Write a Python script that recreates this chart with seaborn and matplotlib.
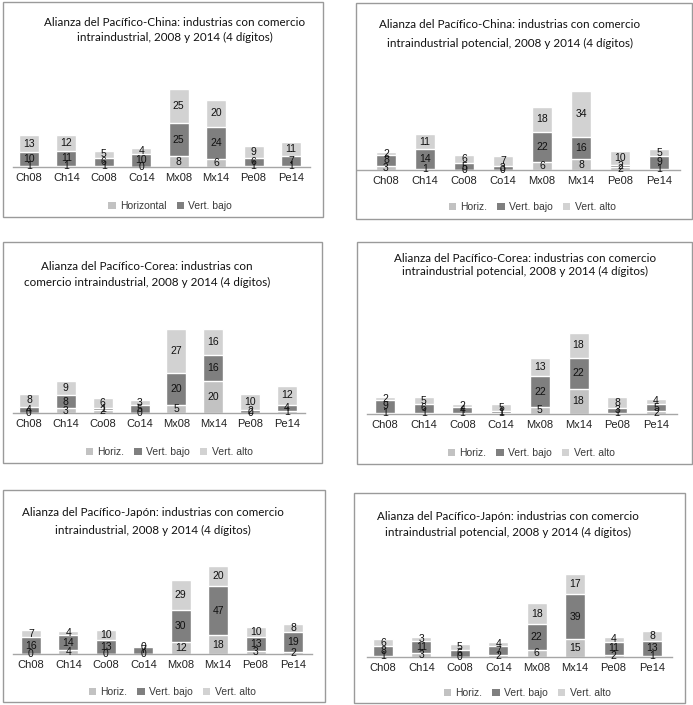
import numpy as np
import matplotlib
matplotlib.use("Agg")
import matplotlib.pyplot as plt
from matplotlib.patches import Patch, Rectangle
import seaborn as sns

# categories shared by all panels
categories = ["Ch08", "Ch14", "Co08", "Co14", "Mx08", "Mx14", "Pe08", "Pe14"]

# China - intraindustrial
china_h = [1, 1, 1, 0, 8, 6, 1, 1]
china_vb = [10, 11, 6, 10, 25, 24, 6, 7]
china_va = [13, 12, 5, 4, 25, 20, 9, 11]

# China - potencial
china_pot_h = [3, 1, 0, 0, 6, 8, 2, 1]
china_pot_vb = [8, 14, 5, 3, 22, 16, 2, 9]
china_pot_va = [2, 11, 6, 7, 18, 34, 10, 5]

# Corea - intraindustrial
corea_h = [0, 3, 2, 0, 5, 20, 0, 1]
corea_vb = [4, 8, 1, 5, 20, 16, 2, 4]
corea_va = [8, 9, 6, 3, 27, 16, 10, 12]

# Corea - potencial
corea_pot_h = [1, 1, 1, 1, 5, 18, 1, 2]
corea_pot_vb = [9, 6, 4, 1, 22, 22, 3, 5]
corea_pot_va = [2, 5, 2, 5, 13, 18, 8, 4]

# Japon - intraindustrial
japon_h = [0, 4, 0, 0, 12, 18, 3, 2]
japon_vb = [16, 14, 13, 7, 30, 47, 13, 19]
japon_va = [7, 4, 10, 0, 29, 20, 10, 8]

# Japon - potencial
japon_pot_h = [1, 3, 0, 2, 6, 15, 2, 1]
japon_pot_vb = [8, 11, 6, 7, 22, 39, 11, 13]
japon_pot_va = [6, 3, 5, 4, 18, 17, 4, 8]

legend_full = ["Horiz.", "Vert. bajo", "Vert. alto"]
legend_first = ["Horizontal", "Vert. bajo"]

C_H = "#c2c2c2"
C_VB = "#7f7f7f"
C_VA = "#d2d2d2"

W, H = 693, 705

panels = [
    dict(title=["Alianza del Pacífico-China: industrias con comercio",
                "intraindustrial, 2008 y 2014 (4 dígitos)"],
         data=(china_h, china_vb, china_va), legend=legend_first,
         box=(3, 2, 323, 217), ax_x=(13, 310), c=(29, 291), base=167, scale=1.34,
         title_y=(23, 37), title_x=175, leg=(170, 206)),
    dict(title=["Alianza del Pacífico-China: industrias con comercio",
                "intraindustrial potencial, 2008 y 2014 (4 dígitos)"],
         data=(china_pot_h, china_pot_vb, china_pot_va), legend=legend_full,
         box=(356, 3, 692, 219), ax_x=(357, 680), c=(386, 659), base=170, scale=1.37,
         title_y=(25, 43), title_x=510, leg=(532, 207)),
    dict(title=["Alianza del Pacífico-Corea: industrias con",
                "comercio intraindustrial, 2008 y 2014 (4 dígitos)"],
         data=(corea_h, corea_vb, corea_va), legend=legend_full,
         box=(3, 242, 322, 463), ax_x=(13, 305), c=(29, 287), base=413, scale=1.615,
         title_y=(267, 282), title_x=147, leg=(169, 452)),
    dict(title=["Alianza del Pacífico-Corea: industrias con comercio",
                "intraindustrial potencial, 2008 y 2014 (4 dígitos)"],
         data=(corea_pot_h, corea_pot_vb, corea_pot_va), legend=legend_full,
         box=(357, 242, 692, 464), ax_x=(367, 677), c=(385, 656), base=414, scale=1.40,
         title_y=(258, 271), title_x=525, leg=(531, 453)),
    dict(title=["Alianza del Pacífico-Japón: industrias con comercio",
                "intraindustrial, 2008 y 2014 (4 dígitos)"],
         data=(japon_h, japon_vb, japon_va), legend=legend_full,
         box=(3, 490, 325, 702), ax_x=(13, 312), c=(31, 293), base=654, scale=1.04,
         title_y=(513, 530), title_x=153, leg=(172, 692)),
    dict(title=["Alianza del Pacífico-Japón: industrias con comercio",
                "intraindustrial potencial, 2008 y 2014 (4 dígitos)"],
         data=(japon_pot_h, japon_pot_vb, japon_pot_va), legend=legend_full,
         box=(354, 493, 685, 703), ax_x=(367, 672), c=(383, 652), base=657, scale=1.17,
         title_y=(517, 532), title_x=508, leg=(527, 693)),
]

sns.set_theme(style="white")
plt.rcParams["font.family"] = ["Liberation Sans", "DejaVu Sans"]

fig = plt.figure(figsize=(W / 100, H / 100), dpi=100)


def fx(px):
    return px / W


def fy(py):
    return 1 - py / H


for p in panels:
    x0, y0, x1, y1 = p["box"]
    fig.patches.append(Rectangle((fx(x0), fy(y1)), fx(x1 - x0), (y1 - y0) / H,
                                 transform=fig.transFigure, fill=False,
                                 edgecolor="#9a9a9a", linewidth=1.0))

    h, vb, va = (np.array(a) for a in p["data"])
    xl, xr = p["ax_x"]
    c0, c7 = p["c"]
    step = (c7 - c0) / 7
    ax = fig.add_axes([fx(xl), fy(p["base"]), fx(xr - xl), 100 / H])

    width = 20 / step
    kw = dict(order=categories, width=width, saturation=1, errorbar=None, ax=ax)
    sns.barplot(x=categories, y=h + vb + va, color=C_VA, **kw)
    sns.barplot(x=categories, y=h + vb, color=C_VB, **kw)
    sns.barplot(x=categories, y=h, color=C_H, **kw)

    ax.set_xlim((xl - c0) / step, (xr - c0) / step)
    ax.set_ylim(0, 100 / p["scale"])
    ax.set_xlabel("")
    ax.set_ylabel("")
    ax.set_yticks([])
    for s in ["left", "right", "top"]:
        ax.spines[s].set_visible(False)
    ax.spines["bottom"].set_color("#a6a6a6")
    ax.spines["bottom"].set_linewidth(1.0)
    ax.tick_params(axis="x", length=0, pad=4, labelsize=8, labelcolor="#222222")
    ax.patch.set_alpha(0)

    # segment labels
    for i in range(len(categories)):
        bottom = 0
        for seg in (h, vb, va):
            v = seg[i]
            ax.text(i, bottom + v / 2, str(v), ha="center", va="center",
                    fontsize=7.5, color="#111111", clip_on=False)
            bottom += v

    # title
    for line, ty in zip(p["title"], p["title_y"]):
        fig.text(fx(p["title_x"]), fy(ty), line, ha="center", va="center",
                 fontsize=8.4, color="#111111", family=["Lato", "DejaVu Sans"])

    # legend
    colors = [C_H, C_VB, C_VA]
    handles = [Patch(facecolor=colors[k], edgecolor="none", label=lab)
               for k, lab in enumerate(p["legend"])]
    fig.legend(handles=handles, loc="center",
               bbox_to_anchor=(fx(p["leg"][0]), fy(p["leg"][1])),
               ncol=len(handles), frameon=False, fontsize=7.5,
               handlelength=0.7, handleheight=0.7, handletextpad=0.4,
               columnspacing=1.0, labelcolor="#3a3a3a")

fig.savefig("out.png", dpi=100)
